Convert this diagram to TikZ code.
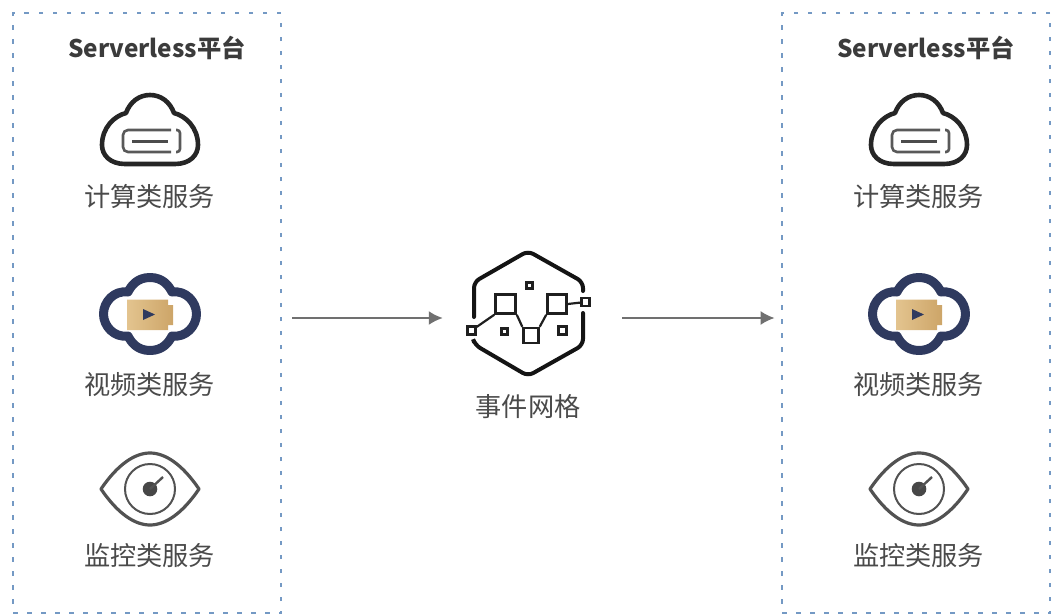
\documentclass[tikz,border=0pt]{standalone}
\usepackage{fontspec}
\setmainfont{Noto Sans CJK SC}
\usetikzlibrary{arrows.meta}
\definecolor{boxblue}{HTML}{7499C4}
\definecolor{navy}{HTML}{2F3A5F}
\definecolor{goldl}{HTML}{E3C48F}
\definecolor{goldr}{HTML}{CDA568}
\definecolor{txt}{HTML}{4A4A4A}
\definecolor{arrowc}{HTML}{707070}
\tikzset{
  platform/.style={draw=boxblue,line width=2.8pt,dash pattern=on 4.5pt off 9.5pt,minimum width=268pt,minimum height=600pt,inner sep=0pt},
  title/.style={font=\bfseries\fontsize{24.3}{26}\selectfont,text=txt!80!black,inner sep=0pt},
  label/.style={font=\fontsize{26.2}{28}\selectfont,text=txt,inner sep=0pt},
  flow/.style={draw=arrowc,line width=2pt,-{Latex[length=14pt,width=14pt]}},
  hexline/.style={line width=4pt,black!92,line cap=round,rounded corners=6pt},
  meshline/.style={draw=black!88,line width=2.2pt},
  meshsq/.style={draw=black!88,line width=#1,fill=white,inner sep=0pt},
  pics/computeicon/.style={code={
    \draw[line width=4.6pt,black!85,line join=round]
      (-25,56) .. controls (-40,56) and (-48,47) .. (-48,37)
      .. controls (-48,20) and (-36,8) .. (-24,5)
      .. controls (-20,-6) and (-11,-13) .. (0,-13)
      .. controls (11,-13) and (20,-6) .. (24,5)
      .. controls (36,8) and (48,20) .. (48,37)
      .. controls (48,47) and (40,56) .. (25,56) -- cycle;
    \draw[line width=2.6pt,black!65,rounded corners=5pt]
      (21,22) -- (-27,22) -- (-27,44) -- (21,44);
    \draw[line width=2.6pt,black!65,rounded corners=3pt]
      (26,22) -- (30,22) -- (30,44) -- (26,44);
    \draw[line width=3pt,black!70] (-18,33.5) -- (18,33.5);
  }},
  pics/videoicon/.style={code={
    \draw[line width=9pt,navy,line join=round]
      (0,-36.5) .. controls (13,-36.5) and (19,-28) .. (22,-22)
      .. controls (36,-24) and (46.5,-12) .. (46.5,0)
      .. controls (46.5,12) and (36,24) .. (22,22)
      .. controls (19,28) and (13,36.5) .. (0,36.5)
      .. controls (-13,36.5) and (-19,28) .. (-22,22)
      .. controls (-36,24) and (-46.5,12) .. (-46.5,0)
      .. controls (-46.5,-12) and (-36,-24) .. (-22,-22)
      .. controls (-19,-28) and (-13,-36.5) .. (0,-36.5) -- cycle;
    \shade[left color=goldl,right color=goldr] (-23,-14.5) -- (18,-14.5) -- (18,-9) -- (23,-9) -- (23,11) -- (18,11) -- (18,16) -- (-23,16) -- cycle;
    \fill[navy] (-7,-5) -- (5,0.5) -- (-7,6) -- cycle;
  }},
  pics/eyeicon/.style={code={
    \draw[line width=3.2pt,black!68,line join=round]
      (-49,0) .. controls (-32,-25) and (-15,-36) .. (0,-36)
      .. controls (15,-36) and (32,-25) .. (49,0)
      .. controls (32,25) and (15,36) .. (0,36)
      .. controls (-15,36) and (-32,25) .. (-49,0) -- cycle;
    \draw[line width=2pt,black!68] (0,0) circle[radius=25];
    \fill[black!72] (0,0) circle[radius=7.3];
    \draw[line width=2.4pt,black!68] (0,0) -- (13,-12);
  }},
}
\begin{document}
\begin{tikzpicture}[x=1pt,y=-1pt]
\useasboundingbox (0,0) rectangle (1053,616);
% platforms
\node[platform] (boxL) at (147,313) {};
\node[platform] (boxR) at (916,313) {};
\node[title] (titleL) at (157,48) {Serverless平台};
\node[title] (titleR) at (926,48) {Serverless平台};
% left column
\pic at (150,108) {computeicon};
\node[label] (l1) at (149.5,196.5) {计算类服务};
\pic at (150,314) {videoicon};
\node[label] (l2) at (149.5,384.5) {视频类服务};
\pic at (150,489) {eyeicon};
\node[label] (l3) at (149.5,555.5) {监控类服务};
% right column
\pic at (919,108) {computeicon};
\node[label] (r1) at (918.5,196.5) {计算类服务};
\pic at (919,314) {videoicon};
\node[label] (r2) at (918.5,384.5) {视频类服务};
\pic at (919,489) {eyeicon};
\node[label] (r3) at (918.5,555.5) {监控类服务};
% mesh
\node[minimum width=170pt,minimum height=10pt,inner sep=0pt] (mesh) at (528,318) {};
\draw[hexline] (474,317) -- (474,282) -- (528,251) -- (583,282) -- (583,291);
\draw[hexline] (583,313) -- (583,345) -- (528,376) -- (475,345) -- (474,342);
\node[meshsq=2.6pt,minimum width=20pt,minimum height=19pt] (b1) at (505.5,304) {};
\node[meshsq=2.6pt,minimum width=19pt,minimum height=19pt] (b2) at (557,304) {};
\node[meshsq=2.4pt,minimum width=15pt,minimum height=15pt] (b3) at (531,335.5) {};
\node[meshsq=2.4pt,minimum size=8pt] (s1) at (471.5,330.5) {};
\node[meshsq=2.4pt,minimum size=8pt] (s2) at (585.5,302) {};
\node[meshsq=2.4pt,minimum size=6pt] (s3) at (504.5,331.5) {};
\node[meshsq=2.4pt,minimum size=6pt] (s4) at (529.5,285.5) {};
\node[meshsq=3pt,minimum size=8pt] (s5) at (562,330) {};
\draw[meshline] (s1) -- (b1.south west);
\draw[meshline] (b1.south east) -- (b3.north west);
\draw[meshline] (b3.north east) -- (b2.south west);
\draw[meshline] (b2.east) -- (s2);
\node[label] (meshlabel) at (528,406.5) {事件网格};
% connectors
\draw[flow,shorten <=10pt] (boxL.east |- mesh) -- (mesh.west);
\draw[flow,shorten <=9pt,shorten >=6pt] (mesh.east) -- (boxR.west |- mesh);
\end{tikzpicture}
\end{document}
